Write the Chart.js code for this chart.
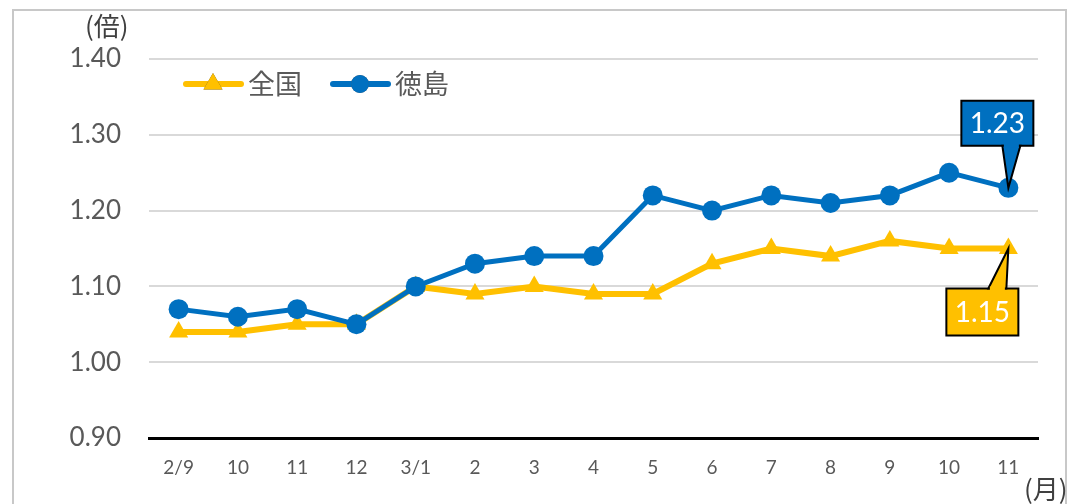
<!DOCTYPE html>
<html>
<head>
<meta charset="utf-8">
<script src="https://cdn.jsdelivr.net/npm/chart.js@4"></script>
<style>
  html, body { margin: 0; padding: 0; background: #fff; }
  #wrap { width: 1068px; height: 504px; }
</style>
</head>
<body>
<div id="wrap"><canvas id="chart" width="1068" height="504"></canvas></div>
<script>
const months = ['2/9', '10', '11', '12', '3/1', '2', '3', '4', '5', '6', '7', '8', '9', '10', '11'];
const zenkoku = [1.04, 1.04, 1.05, 1.05, 1.10, 1.09, 1.10, 1.09, 1.09, 1.13, 1.15, 1.14, 1.16, 1.15, 1.15];
const tokushima = [1.07, 1.06, 1.07, 1.05, 1.10, 1.13, 1.14, 1.14, 1.22, 1.20, 1.22, 1.21, 1.22, 1.25, 1.23];
const seriesNames = ['全国', '徳島'];

const BLUE = '#0070C0';
const YELLOW = '#FFC000';
const JP = '"Noto Sans CJK JP", "Noto Sans", sans-serif';
const NUM = 'Lato, "Noto Sans", sans-serif';

// frame, unit labels, legend and the two value callouts
const extras = {
  id: 'extras',
  beforeDraw(chart) {
    const ctx = chart.ctx;
    ctx.save();
    ctx.fillStyle = '#fff';
    ctx.fillRect(0, 0, chart.width, chart.height);
    ctx.strokeStyle = '#c8c8c8';
    ctx.lineWidth = 2;
    ctx.strokeRect(13, 10, 1053, 510);
    ctx.restore();
  },
  afterDraw(chart) {
    const ctx = chart.ctx;
    ctx.save();
    ctx.fillStyle = '#404040';
    ctx.font = '26px ' + JP;
    ctx.textBaseline = 'middle';
    ctx.textAlign = 'left';
    ctx.fillText('(倍)', 85, 26);
    ctx.fillText('(月)', 1024, 489);

    // legend
    const items = [
      { x: 183, color: YELLOW, style: 'triangle', r: 11, name: seriesNames[0] },
      { x: 330, color: BLUE, style: 'circle', r: 9, name: seriesNames[1] }
    ];
    const ly = 84;
    items.forEach(it => {
      ctx.strokeStyle = it.color;
      ctx.lineWidth = 6;
      ctx.lineCap = 'round';
      ctx.beginPath();
      ctx.moveTo(it.x + 3, ly);
      ctx.lineTo(it.x + 58, ly);
      ctx.stroke();
      Chart.helpers.drawPoint(ctx, { pointStyle: it.style, radius: it.r, borderWidth: 0 }, it.x + 30, ly);
      ctx.fillStyle = it.color;
      ctx.fill();
      ctx.fillStyle = '#595959';
      ctx.font = '27px ' + JP;
      ctx.fillText(it.name, it.x + 65, ly);
    });

    // callouts
    const x = chart.scales.x, y = chart.scales.y;
    const last = months.length - 1;
    const bx = x.getPixelForValue(last), byB = y.getPixelForValue(tokushima[last]);
    const byY = y.getPixelForValue(zenkoku[last]);
    function callout(fill, left, top, w, h, baseA, baseB, edgeY, tipX, tipY, text) {
      ctx.beginPath();
      ctx.rect(left, top, w, h);
      ctx.fillStyle = fill;
      ctx.fill();
      ctx.lineWidth = 2;
      ctx.strokeStyle = '#000';
      ctx.stroke();
      ctx.beginPath();
      ctx.moveTo(baseA, edgeY);
      ctx.lineTo(tipX, tipY);
      ctx.lineTo(baseB, edgeY);
      ctx.closePath();
      ctx.fill();
      ctx.stroke();
      ctx.fillStyle = fill;
      ctx.fillRect(Math.min(baseA, baseB) + 1.5, edgeY - 2, Math.abs(baseB - baseA) - 3, 4);
      ctx.fillStyle = '#fff';
      ctx.font = '28px ' + NUM;
      ctx.textAlign = 'center';
      ctx.textBaseline = 'middle';
      ctx.fillText(text, left + w / 2, top + h / 2 + 1);
    }
    callout(BLUE, bx - 47, byB - 87, 72, 45, bx - 6, bx + 12, byB - 42, bx, byB, tokushima[last].toFixed(2));
    callout(YELLOW, bx - 62, byY + 40, 72, 47, bx - 20, bx - 2, byY + 40, bx, byY, zenkoku[last].toFixed(2));
    ctx.restore();
  }
};

new Chart(document.getElementById('chart'), {
  type: 'line',
  data: {
    labels: months,
    datasets: [
      {
        label: seriesNames[0],
        data: zenkoku,
        borderColor: YELLOW,
        backgroundColor: YELLOW,
        borderWidth: 6,
        pointStyle: 'triangle',
        pointRadius: 11,
        pointBorderWidth: 0,
        tension: 0,
        order: 2
      },
      {
        label: seriesNames[1],
        data: tokushima,
        borderColor: BLUE,
        backgroundColor: BLUE,
        borderWidth: 5,
        pointStyle: 'circle',
        pointRadius: 10,
        pointBorderWidth: 0,
        tension: 0,
        order: 1
      }
    ]
  },
  options: {
    responsive: false,
    animation: false,
    events: [],
    layout: { padding: { top: 59, right: 30, bottom: 0, left: 0 } },
    plugins: {
      legend: { display: false },
      title: { display: false },
      tooltip: { enabled: false }
    },
    scales: {
      x: {
        offset: true,
        grid: { display: false, drawTicks: false },
        border: { display: true, color: '#000', width: 3 },
        ticks: { color: '#595959', font: { family: NUM, size: 19 }, padding: 18, maxRotation: 0, autoSkip: false },
        afterFit(scale) { scale.height = 66; }
      },
      y: {
        min: 0.9,
        max: 1.4,
        grid: { color: '#d9d9d9', lineWidth: 2, drawTicks: false },
        border: { display: false },
        ticks: {
          stepSize: 0.1,
          color: '#595959',
          font: { family: NUM, size: 26 },
          padding: 28,
          callback: v => v.toFixed(2)
        },
        afterFit(scale) { scale.width = 149; }
      }
    }
  },
  plugins: [extras]
});
</script>
</body>
</html>
